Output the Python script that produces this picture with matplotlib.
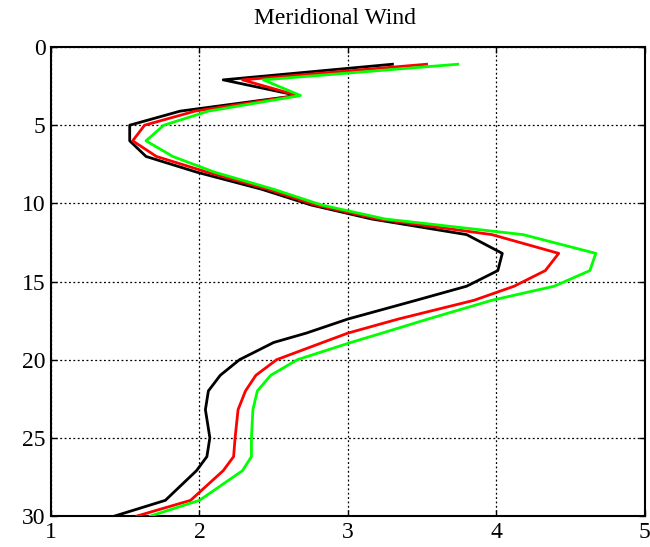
import matplotlib
matplotlib.use("Agg")
import matplotlib.pyplot as plt

title = "Meridional Wind"
heights = [1.1, 2.1, 3.1, 4.1, 5.0, 6.0, 7.0, 8.0, 9.1, 10.1, 11.0, 12.0, 13.2, 14.3,
           15.3, 16.2, 17.4, 18.3, 18.9, 20.0, 21.0, 22.0, 23.2, 25.0, 26.2, 27.1, 29.0, 30.0]
black_wind = [3.30, 2.16, 2.66, 1.87, 1.53, 1.53, 1.64, 1.98, 2.42, 2.75, 3.16, 3.80, 4.04, 4.01,
              3.80, 3.46, 3.00, 2.72, 2.50, 2.27, 2.14, 2.06, 2.04, 2.07, 2.05, 1.98, 1.77, 1.43]
red_wind = [3.53, 2.29, 2.66, 1.97, 1.63, 1.55, 1.71, 2.05, 2.46, 2.78, 3.20, 3.97, 4.42, 4.33,
            4.12, 3.85, 3.34, 3.00, 2.83, 2.52, 2.38, 2.31, 2.26, 2.24, 2.23, 2.16, 1.94, 1.58]
green_wind = [3.74, 2.43, 2.68, 2.06, 1.76, 1.64, 1.82, 2.10, 2.50, 2.82, 3.25, 4.18, 4.67, 4.63,
              4.39, 3.97, 3.54, 3.23, 3.02, 2.66, 2.48, 2.39, 2.36, 2.35, 2.35, 2.29, 2.00, 1.67]
xticks = [1, 2, 3, 4, 5]
yticks = [0, 5, 10, 15, 20, 25, 30]

plt.rcParams['font.family'] = ['Liberation Serif', 'DejaVu Serif']

fig = plt.figure(figsize=(6.5, 5.47), dpi=100)
ax = fig.add_axes([0.0785, 0.0567, 0.9135, 0.8573])

ax.plot(black_wind, heights, color='black', lw=2.0, zorder=3)
ax.plot(red_wind, heights, color='#ff0000', lw=2.0, zorder=4)
ax.plot(green_wind, heights, color='#00ff00', lw=2.0, zorder=5)

ax.set_xlim(1, 5)
ax.set_ylim(30, 0)
ax.set_xticks(xticks)
ax.set_yticks(yticks)
ax.grid(True, color='black', linestyle=(0, (1.5, 2)), linewidth=0.9)
ax.tick_params(direction='in', top=True, right=True, length=4, width=1, labelsize=17, pad=4)
for s in ax.spines.values():
    s.set_linewidth(1.5)
fig.text(335 / 650, 1 - 18 / 547, title, fontsize=17, ha='center', va='center')

fig.savefig("out.png", dpi=100)
